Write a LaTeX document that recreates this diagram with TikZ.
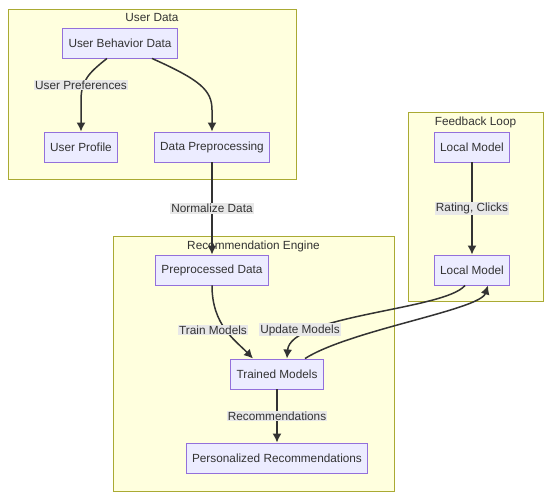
\documentclass[tikz,border=0pt]{standalone}
\usepackage{fontspec}
\setmainfont{Liberation Sans}
\usetikzlibrary{arrows.meta,positioning}
\definecolor{nodeFill}{HTML}{ECECFF}
\definecolor{nodeLine}{HTML}{9370DB}
\definecolor{clusterFill}{HTML}{FFFFDE}
\definecolor{clusterLine}{HTML}{AAAA33}
\definecolor{edgeLine}{HTML}{333333}
\definecolor{labelFill}{HTML}{E8E8E8}
\tikzset{%
  >={Latex[width=9pt,length=9pt]},
  % Specifications for style of nodes:
            base/.style = {rectangle, draw=nodeLine, fill=nodeFill, line width=0.9pt,
                           minimum height=30pt, inner xsep=6pt,
                           text centered, text=edgeLine, font=\fontsize{11.8}{14}\selectfont},
         cluster/.style = {rectangle, draw=clusterLine, fill=clusterFill, line width=1pt},
    clusterlabel/.style = {text=edgeLine, inner sep=1pt, font=\fontsize{11.8}{14}\selectfont},
       edgelabel/.style = {fill=labelFill, text=edgeLine, inner sep=1pt,
                           font=\fontsize{11.8}{14}\selectfont},
            flow/.style = {->, draw=edgeLine, line width=1.5pt},
}

\begin{document}
\begin{tikzpicture}[x=1pt, y=-1pt]
  \useasboundingbox (0,0) rectangle (550,502);
  % Specification of subgraphs
  \node (userData)        [cluster, minimum width=288pt, minimum height=170pt] at (152,95)    {};
  \node (recEngine)       [cluster, minimum width=281pt, minimum height=255pt] at (253.5,364.5) {};
  \node (feedbackLoop)    [cluster, minimum width=135pt, minimum height=189pt] at (475.5,207.5) {};

  \node (userDataTitle)     [clusterlabel, below=3pt of userData.north]     {User Data};
  \node (recEngineTitle)    [clusterlabel, below=3pt of recEngine.north]    {Recommendation Engine};
  \node (feedbackLoopTitle) [clusterlabel, below=3pt of feedbackLoop.north] {Feedback Loop};

  % Specification of nodes (position, etc.)
  \node (userBehavior)    [base] at (120,43)   {User Behavior Data};
  \node (userProfile)     [base] at (81,147)   {User Profile};
  \node (dataPrep)        [base] at (212,147)  {Data Preprocessing};

  \node (prepData)        [base] at (212,270)  {Preprocessed Data};
  \node (trainedModels)   [base] at (277,374)  {Trained Models};
  \node (personalRecs)    [base] at (277,458)  {Personalized Recommendations};

  \node (localModel_1)    [base] at (472,147)  {Local Model};
  \node (localModel_2)    [base] at (472,270)  {Local Model};

  % Specification of lines between nodes specified above
  % with aditional nodes for description
  \draw[flow] ([xshift=-13pt]userBehavior.south) .. controls (90,72) and (81,80) .. (81,100)
                -- (userProfile.north);
  \node (userPrefLabel) [edgelabel] at (81,85) {User Preferences};
  \draw[flow] ([xshift=32pt]userBehavior.south) .. controls (200,80) and (212,90) .. (212,110)
                -- (dataPrep.north);
  \draw[flow]      (dataPrep) -- node [edgelabel] {Normalize Data} (prepData);
  \draw[flow]  (localModel_1) -- node [edgelabel] {Rating, Clicks} (localModel_2);

  \draw[flow] (prepData.south) .. controls (212,325) and (235,340) .. ([xshift=-24pt]trainedModels.north);
  \node (trainLabel) [edgelabel] at (213,330) {Train Models};

  \draw[flow] ([xshift=-7pt]localModel_2.south) .. controls (445,310) and (290,315)
                .. ([xshift=10pt]trainedModels.north);
  \node (updateLabel) [edgelabel] at (300,330) {Update Models};

  \draw[flow] ([xshift=28pt]trainedModels.north) .. controls (350,330) and (480,310)
                .. ([xshift=16pt]localModel_2.south);

  \draw[flow] (trainedModels) -- node [edgelabel] {Recommendations} (personalRecs);
\end{tikzpicture}
\end{document}
